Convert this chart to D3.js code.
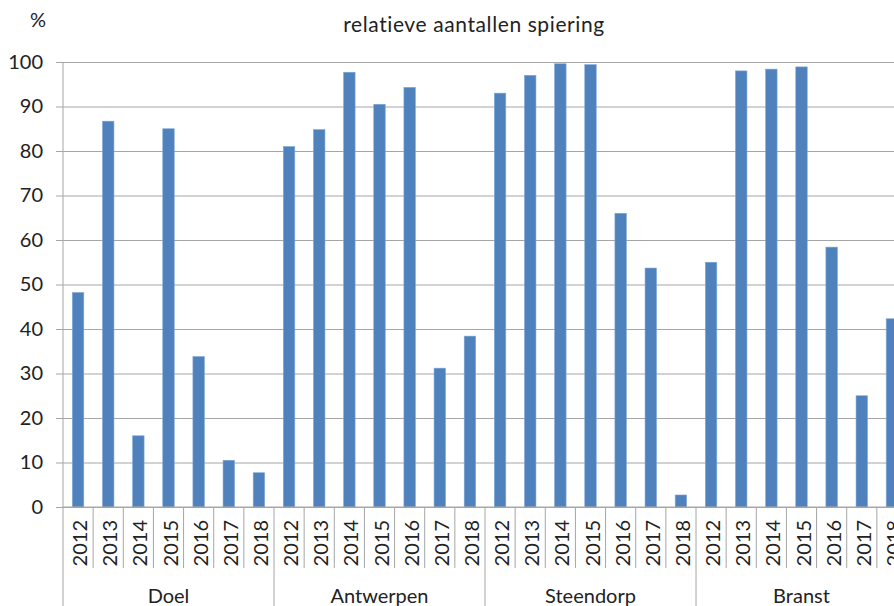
<!DOCTYPE html>
<html><head><meta charset="utf-8">
<script src="https://cdn.jsdelivr.net/npm/d3@7"></script>
<style>body{margin:0;background:#fff;overflow:hidden}text{font-family:Lato,"Open Sans",sans-serif;fill:#222}</style>
</head><body><svg id="c" width="894" height="606"></svg>
<script>
const groups = ["Doel","Antwerpen","Steendorp","Branst"];
const years = ["2012","2013","2014","2015","2016","2017","2018"];
const valuesDoel = [48.2, 86.7, 16.0, 85.0, 33.8, 10.5, 7.7];
const valuesAntwerpen = [81.0, 84.8, 97.7, 90.5, 94.3, 31.2, 38.4];
const valuesSteendorp = [93.0, 97.0, 99.6, 99.4, 66.0, 53.7, 2.7];
const valuesBranst = [55.0, 98.0, 98.4, 98.9, 58.4, 25.0, 42.3];
const yTicks = [0,10,20,30,40,50,60,70,80,90,100];
const title = "relatieve aantallen spiering";

const series = [valuesDoel, valuesAntwerpen, valuesSteendorp, valuesBranst];
const data = [];
groups.forEach((g,gi)=>years.forEach((y,yi)=>data.push({key:g+"|"+y, group:g, year:y, value:series[gi][yi]})));

const svg = d3.select("#c");
const pL = 63, pT = 62, pB = 507, pR = 907;
const x = d3.scaleBand().domain(data.map(d=>d.key)).range([pL,pR]).paddingInner(0.62).paddingOuter(0.31);
const xg = d3.scaleBand().domain(groups).range([pL,pR]);
const y = d3.scaleLinear().domain([0,100]).range([pB,pT]);

// gridlines + y axis
const ya = svg.append("g").attr("transform",`translate(${pL},0)`)
  .call(d3.axisLeft(y).tickValues(yTicks).tickSize(-(pR-pL)).tickSizeOuter(0).tickPadding(20));
ya.select(".domain").remove();
ya.selectAll(".tick line").attr("stroke","#a6a6a6").attr("x1",-7);
ya.selectAll(".tick text").attr("font-size",20).attr("fill","#222").style("font-family","Lato");

// bars
svg.append("g").selectAll("rect").data(data).join("rect")
  .attr("x",d=>x(d.key)).attr("width",x.bandwidth())
  .attr("y",d=>y(d.value)).attr("height",d=>y(0)-y(d.value))
  .attr("fill","#4f81bd").attr("stroke","#7ea6d6").attr("stroke-width",0.6);

// axis lines
svg.append("line").attr("x1",pL).attr("x2",pL).attr("y1",pT).attr("y2",606).attr("stroke","#a6a6a6");
svg.append("line").attr("x1",pL).attr("x2",pR).attr("y1",pB).attr("y2",pB).attr("stroke","#a6a6a6");

// category separators
const cats = x.domain();
const cw = (pR-pL)/cats.length;
svg.append("g").selectAll("line").data(cats.slice(1)).join("line")
  .attr("x1",(d,i)=>pL+(i+1)*cw).attr("x2",(d,i)=>pL+(i+1)*cw)
  .attr("y1",pB).attr("y2",d=>d.endsWith("|2012")?606:568)
  .attr("stroke","#a6a6a6");

// year labels
svg.append("g").selectAll("text").data(data).join("text")
  .attr("transform",d=>`translate(${x(d.key)+x.bandwidth()/2+9},520) rotate(-90)`)
  .attr("text-anchor","end").attr("font-size",20).text(d=>d.year);

// group labels
svg.append("g").selectAll("text").data(groups).join("text")
  .attr("x",d=>xg(d)+xg.bandwidth()/2).attr("y",603)
  .attr("text-anchor","middle").attr("font-size",20).text(d=>d);

svg.append("text").attr("x",474).attr("y",32).attr("text-anchor","middle").attr("font-size",21)
  .attr("letter-spacing",0.6).text(title);
svg.append("text").attr("x",38).attr("y",27).attr("text-anchor","middle").attr("font-size",20).text("%");
</script></body></html>
